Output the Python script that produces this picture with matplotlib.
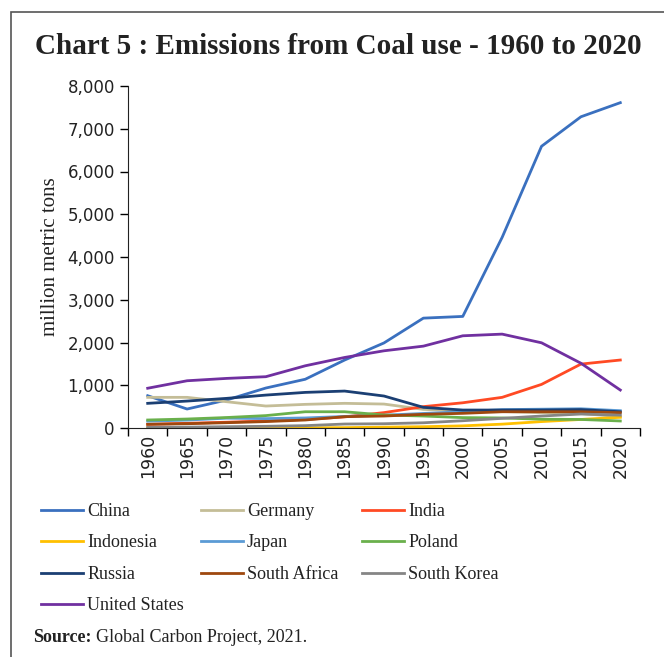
import matplotlib.pyplot as plt
from matplotlib.patches import Rectangle

# Coal emissions (million metric tons)
years = ['1960', '1965', '1970', '1975', '1980', '1985', '1990',
         '1995', '2000', '2005', '2010', '2015', '2020']

china = [755, 444, 654, 935, 1140, 1590, 1990, 2570, 2610, 4460, 6590, 7280, 7610]
germany = [717, 717, 615, 514, 553, 577, 560, 436, 397, 386, 358, 340, 265]
india = [86, 110, 135, 165, 200, 260, 360, 500, 590, 717, 1020, 1495, 1590]
indonesia = [2, 2, 3, 4, 5, 8, 20, 30, 50, 90, 150, 200, 250]
japan = [160, 185, 230, 220, 235, 270, 300, 340, 380, 430, 440, 450, 405]
poland = [187, 210, 245, 290, 380, 380, 304, 280, 243, 235, 205, 200, 164]
russia = [577, 630, 693, 770, 833, 864, 748, 483, 420, 420, 420, 430, 380]
south_africa = [86, 100, 124, 150, 187, 265, 280, 320, 343, 380, 380, 380, 358]
south_korea = [15, 20, 30, 40, 55, 93, 100, 122, 170, 226, 280, 327, 300]
united_states = [930, 1105, 1160, 1200, 1455, 1650, 1806, 1915, 2157, 2196, 1993, 1515, 888]

series = [
    ('China', china, '#3A70BF'),
    ('Germany', germany, '#C4BD97'),
    ('India', india, '#FF4A24'),
    ('Indonesia', indonesia, '#FFC000'),
    ('Japan', japan, '#5B9BD5'),
    ('Poland', poland, '#6AB04C'),
    ('Russia', russia, '#1B3F73'),
    ('South Africa', south_africa, '#9E480E'),
    ('South Korea', south_korea, '#858585'),
    ('United States', united_states, '#7030A0'),
]

SERIF = 'Liberation Serif'
SANS = 'DejaVu Sans'
INK = '#222222'

fig = plt.figure(figsize=(6.64, 6.57), dpi=100)

# outer frame of the chart box
fig.patches.append(Rectangle((11 / 664, -0.05), 1.0, 1.05 - 12 / 657,
                             transform=fig.transFigure, fill=False,
                             edgecolor='#555555', linewidth=1.2))

ax = fig.add_axes([128 / 664, 1 - 428 / 657, 512 / 664, 342 / 657])

x = range(len(years))
lines = {}
for name, vals, col in series:
    lines[name], = ax.plot(x, vals, color=col, linewidth=2, label=name)

ax.set_xlim(-0.5, len(years) - 0.5)
ax.set_ylim(0, 8000)

# category axis: tick marks between categories, labels at centres
ax.set_xticks([i - 0.5 for i in range(len(years) + 1)])
ax.set_xticklabels([])
ax.set_xticks(list(x), minor=True)
ax.set_xticklabels(years, minor=True, rotation=90, fontsize=12.5,
                   family=SANS, color=INK)
ax.tick_params(axis='x', which='major', length=6, direction='out', width=1)
ax.tick_params(axis='x', which='minor', length=0, pad=4)

ax.set_yticks(range(0, 8001, 1000))
ax.set_yticklabels([f'{v:,}' for v in range(0, 8001, 1000)],
                   fontsize=12, family=SANS, color=INK)
ax.tick_params(axis='y', length=6, direction='out', width=1)

for s in ['top', 'right']:
    ax.spines[s].set_visible(False)
ax.spines['left'].set_color(INK)
ax.spines['bottom'].set_color(INK)

ax.set_ylabel('million metric tons', family=SERIF, fontsize=15,
              labelpad=5, color=INK)

fig.text(35 / 664, 1 - 46 / 657,
         'Chart 5 : Emissions from Coal use - 1960 to 2020',
         family=SERIF, fontweight='bold', fontsize=21,
         va='center', ha='left', color=INK)

# legend: three columns, filled row by row
columns = [
    (41, ['China', 'Indonesia', 'Russia', 'United States']),
    (201, ['Germany', 'Japan', 'South Africa']),
    (362, ['India', 'Poland', 'South Korea']),
]
for left, names in columns:
    leg = fig.legend([lines[n] for n in names], names, frameon=False,
                     loc='upper left', bbox_to_anchor=(left / 664, 1 - 503 / 657),
                     prop={'family': SERIF, 'size': 13},
                     handlelength=2.3, handletextpad=0.25, borderpad=0,
                     labelspacing=0.8, borderaxespad=0)
    for t in leg.get_texts():
        t.set_color(INK)

fig.text(33 / 664, 1 - 638 / 657, 'Source:', family=SERIF,
         fontweight='bold', fontsize=13, va='center', ha='left', color=INK)
fig.text(96 / 664, 1 - 638 / 657, 'Global Carbon Project, 2021.',
         family=SERIF, fontsize=13, va='center', ha='left', color=INK)

fig.savefig('out.png', dpi=100)
